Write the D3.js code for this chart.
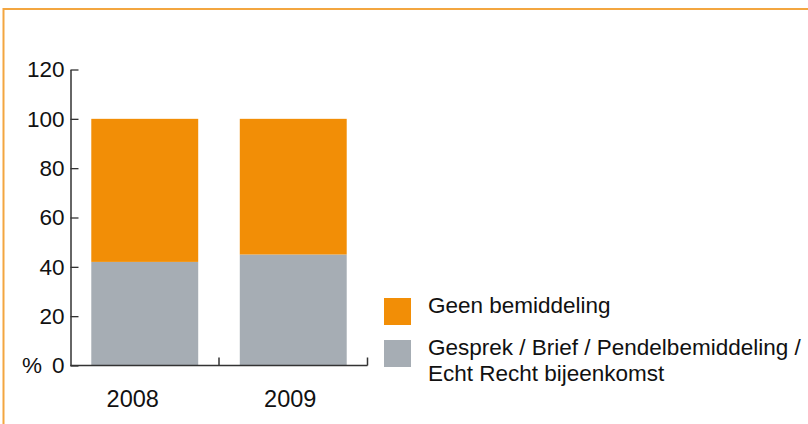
<!DOCTYPE html>
<html>
<head>
<meta charset="utf-8">
<script src="https://cdn.jsdelivr.net/npm/d3@7"></script>
<style>
  body { margin: 0; background: #fff; }
  svg text { font-family: "Liberation Sans", Arial, Helvetica, sans-serif; fill: #111; }
</style>
</head>
<body>
<svg id="chart" width="808" height="424"></svg>
<script>
// data
var years = ["2008", "2009"];
var gesprek = [42, 45];          // Gesprek / Brief / Pendelbemiddeling / Echt Recht bijeenkomst
var geen = [58, 55];             // Geen bemiddeling
var yTicks = [0, 20, 40, 60, 80, 100, 120];
var seriesNames = ["Geen bemiddeling", "Gesprek / Brief / Pendelbemiddeling /\nEcht Recht bijeenkomst"];
var seriesColors = ["#f28e06", "#a6adb4"];

var svg = d3.select("#chart");

// frame (only top + left visible)
svg.append("path")
  .attr("d", "M3.5,424 L3.5,9 L808,9")
  .attr("fill", "none")
  .attr("stroke", "#f3a640")
  .attr("stroke-width", 2);

var x = d3.scaleBand()
  .domain(years)
  .range([70.5, 367.5])
  .paddingInner(0.28)
  .paddingOuter(0.14);

var y = d3.scaleLinear()
  .domain([0, 120])
  .range([365.5, 69.5]);

var rows = years.map(function(d, i) {
  return { year: d, gesprek: gesprek[i], geen: geen[i] };
});
var stack = d3.stack().keys(["gesprek", "geen"]);
var layers = stack(rows);
var colorOf = { gesprek: seriesColors[1], geen: seriesColors[0] };

svg.selectAll("g.layer")
  .data(layers)
  .enter()
  .append("g")
  .attr("class", "layer")
  .attr("fill", function(d) { return colorOf[d.key]; })
  .selectAll("rect")
  .data(function(d) { return d; })
  .enter()
  .append("rect")
  .attr("x", function(d) { return x(d.data.year); })
  .attr("y", function(d) { return y(d[1]); })
  .attr("width", x.bandwidth())
  .attr("height", function(d) { return y(d[0]) - y(d[1]); });

// y axis, ticks pointing inward
var yAxis = svg.append("g")
  .attr("transform", "translate(" + x.range()[0] + ",0)")
  .call(d3.axisLeft(y).tickValues(yTicks).tickSizeInner(-8).tickSizeOuter(0).tickPadding(6));
yAxis.select(".domain").attr("stroke", "#333").attr("stroke-width", 1.5);
yAxis.selectAll(".tick line").attr("stroke", "#333").attr("stroke-width", 1.3);
yAxis.selectAll(".tick text")
  .style("font-size", "22.5px")
  .attr("fill", "#111");

svg.append("text")
  .text("%")
  .attr("x", 22)
  .attr("y", y(0))
  .attr("dy", "0.32em")
  .style("font-size", "22.5px");

// x axis with separator ticks between the bars
var half = (x.step() - x.bandwidth()) / 2;
svg.append("line")
  .attr("x1", x.range()[0]).attr("x2", x.range()[1])
  .attr("y1", y(0)).attr("y2", y(0))
  .attr("stroke", "#333").attr("stroke-width", 1.5);

svg.selectAll("line.sep")
  .data(years)
  .enter()
  .append("line")
  .attr("class", "sep")
  .attr("x1", function(d) { return x(d) + x.bandwidth() + half; })
  .attr("x2", function(d) { return x(d) + x.bandwidth() + half; })
  .attr("y1", y(0))
  .attr("y2", y(0) - 8)
  .attr("stroke", "#333")
  .attr("stroke-width", 1.5);

var labelShift = [-12, -3];
svg.selectAll("text.year")
  .data(years)
  .enter()
  .append("text")
  .attr("class", "year")
  .text(function(d) { return d; })
  .attr("x", function(d, i) { return x(d) + x.bandwidth() / 2 + labelShift[i]; })
  .attr("y", 407)
  .attr("text-anchor", "middle")
  .style("font-size", "23.5px");

// legend
var legend = svg.append("g").attr("transform", "translate(384,298)");
var item = legend.selectAll("g")
  .data(seriesNames)
  .enter()
  .append("g")
  .attr("transform", function(d, i) { return "translate(0," + (i * 42) + ")"; });

item.append("rect")
  .attr("width", 27)
  .attr("height", 27)
  .attr("fill", function(d, i) { return seriesColors[i]; });

item.append("text")
  .attr("x", 44)
  .attr("y", 15)
  .style("font-size", "22.5px")
  .selectAll("tspan")
  .data(function(d) { return d.split("\n"); })
  .enter()
  .append("tspan")
  .attr("x", 44)
  .attr("dy", function(d, i) { return i == 0 ? 0 : 25.5; })
  .text(function(d) { return d; });
</script>
</body>
</html>
